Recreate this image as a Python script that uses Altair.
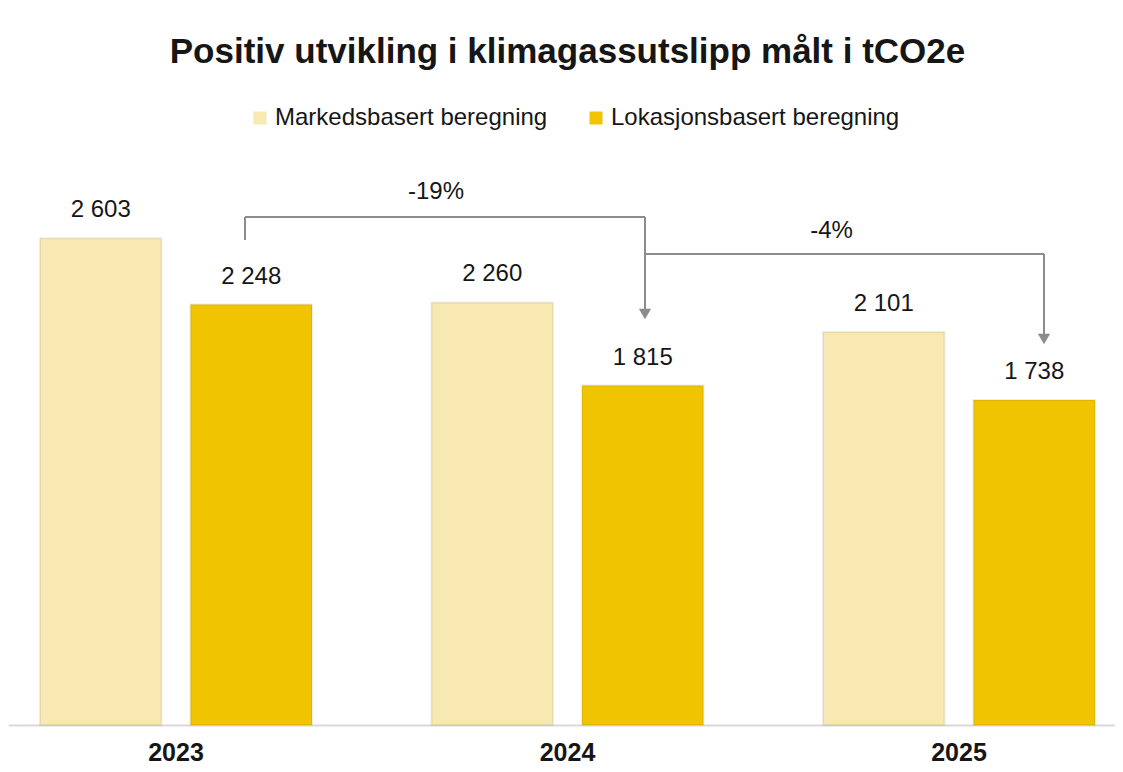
import altair as alt
import pandas as pd

# ---- data ----
years = ["2023", "2024", "2025"]
series = ["Markedsbasert beregning", "Lokasjonsbasert beregning"]
markedsbasert = [2603, 2260, 2101]
lokasjonsbasert = [2248, 1815, 1738]
change_from = ["2023", "2024"]
change_to = ["2024", "2025"]
change_labels = ["-19%", "-4%"]

title_text = "Positiv utvikling i klimagassutslipp målt i tCO2e"

# ---- styles ----
colors = ["#F8E9B2", "#F0C400"]
FONT = "Liberation Sans"
INK = "#161616"
LINE = "#8c8c8c"
W, H = 1107, 561

rows = []
for i, yr in enumerate(years):
    rows.append({"year": yr, "series": series[0], "value": markedsbasert[i]})
    rows.append({"year": yr, "series": series[1], "value": lokasjonsbasert[i]})
df = pd.DataFrame(rows)
df["label"] = df["value"].map(lambda v: f"{v:,}".replace(",", " "))

ann = pd.DataFrame({"from": change_from, "to": change_to, "label": change_labels})

xscale = alt.Scale(domain=years, paddingInner=0.3052, paddingOuter=0.0664, align=0.615)
x = alt.X("year:N", scale=xscale, sort=years, title=None)
xoff = alt.XOffset("series:N", sort=series,
                   scale=alt.Scale(domain=series, paddingInner=0.193, paddingOuter=0))
y = alt.Y("value:Q", scale=alt.Scale(domain=[0, 3000]), axis=None)
color = alt.Color(
    "series:N", sort=series,
    scale=alt.Scale(domain=series, range=colors),
    legend=alt.Legend(
        title=None, orient="none", legendX=240, legendY=-58, direction="horizontal",
        symbolType="square", symbolSize=169, symbolStrokeWidth=0,
        labelFontSize=24, labelFont=FONT, labelColor=INK, labelOffset=3,
        columnPadding=36, labelLimit=500,
    ),
)

bars = alt.Chart(df).mark_bar(
    stroke="#000000", strokeOpacity=0.07, strokeWidth=2
).encode(x=x, xOffset=xoff, y=y, color=color)
labels = alt.Chart(df).mark_text(
    baseline="bottom", dy=-16, fontSize=24, font=FONT, color=INK
).encode(x=x, xOffset=xoff, y=y, text="label:N")

def xf(field):
    return alt.X(f"{field}:N", scale=xscale, title=None)

a1 = ann.iloc[[0]]
a2 = ann.iloc[[1]]
rule = dict(color=LINE, strokeWidth=2)

layers = [bars, labels]
# bracket 1 (-19%)
layers.append(alt.Chart(a1).mark_rule(xOffset=69, **rule).encode(
    x=xf("from"), y=alt.value(76), y2=alt.value(53)))
layers.append(alt.Chart(a1).mark_rule(xOffset=69, x2Offset=77.5, **rule).encode(
    x=xf("from"), x2="to:N", y=alt.value(53)))
layers.append(alt.Chart(a1).mark_rule(xOffset=77.5, **rule).encode(
    x=xf("to"), y=alt.value(53), y2=alt.value(145)))
layers.append(alt.Chart(a1).mark_point(shape="triangle-down", filled=True, size=150,
                                       opacity=1, color=LINE, xOffset=77.5).encode(
    x=xf("to"), y=alt.value(150)))
layers.append(alt.Chart(a1).mark_text(fontSize=24, font=FONT, color=INK,
                                      baseline="alphabetic", xOffset=260).encode(
    x=xf("from"), y=alt.value(35), text="label:N"))
# bracket 2 (-4%)
layers.append(alt.Chart(a2).mark_rule(xOffset=77.5, x2Offset=85, **rule).encode(
    x=xf("from"), x2="to:N", y=alt.value(90)))
layers.append(alt.Chart(a2).mark_rule(xOffset=85, **rule).encode(
    x=xf("to"), y=alt.value(90), y2=alt.value(170)))
layers.append(alt.Chart(a2).mark_point(shape="triangle-down", filled=True, size=150,
                                       opacity=1, color=LINE, xOffset=85).encode(
    x=xf("to"), y=alt.value(175)))
layers.append(alt.Chart(a2).mark_text(fontSize=24, font=FONT, color=INK,
                                      baseline="alphabetic", xOffset=264).encode(
    x=xf("from"), y=alt.value(74), text="label:N"))

chart = alt.layer(*layers).properties(
    width=W, height=H,
    padding={"left": 0, "top": 156, "right": 0, "bottom": 40},
    autosize=alt.AutoSizeParams(type="none"),
    background="white",
    title=alt.TitleParams(title_text, font=FONT, fontSize=35, fontWeight="bold",
                          color=INK, anchor="middle", dx=6, offset=36),
).configure_view(strokeWidth=0).configure_axisX(
    labelAngle=0, labelFontSize=25, labelFontWeight="bold", labelColor=INK,
    labelFont=FONT, ticks=False, tickSize=0, labelPadding=15,
    domainColor="#d9d9d9", domainWidth=2, grid=False,
)

chart.save("out.html", embed_options={"renderer": "svg", "actions": False})
